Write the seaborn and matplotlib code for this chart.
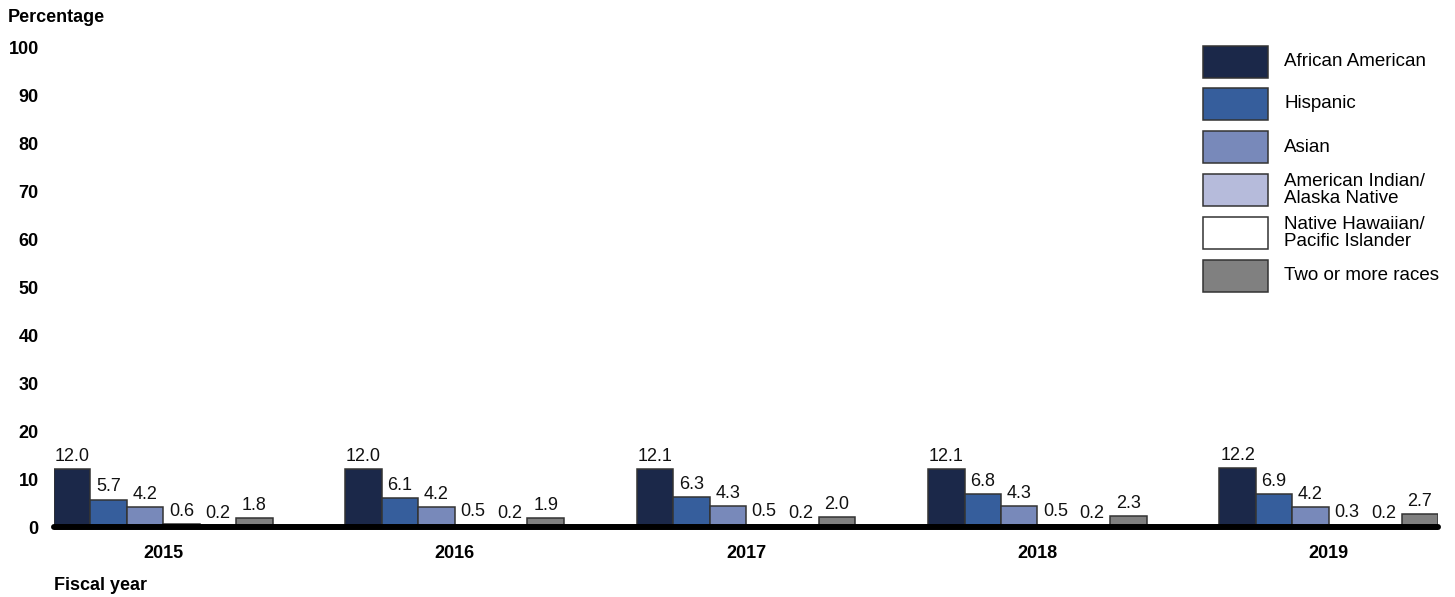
#!/usr/bin/env python3
"""Minority representation by fiscal year, grouped bars."""

import matplotlib.pyplot as plt
import pandas as pd
import seaborn as sns
from matplotlib.patches import Rectangle

years = ["2015", "2016", "2017", "2018", "2019"]
groups = [
    "African American",
    "Hispanic",
    "Asian",
    "American Indian/\nAlaska Native",
    "Native Hawaiian/\nPacific Islander",
    "Two or more races",
]
african_american = [12.0, 12.0, 12.1, 12.1, 12.2]
hispanic = [5.7, 6.1, 6.3, 6.8, 6.9]
asian = [4.2, 4.2, 4.3, 4.3, 4.2]
american_indian = [0.6, 0.5, 0.5, 0.5, 0.3]
native_hawaiian = [0.2, 0.2, 0.2, 0.2, 0.2]
two_or_more = [1.8, 1.9, 2.0, 2.3, 2.7]
colors = ["#1b2849", "#365e9c", "#7889ba", "#b6bbdb", "#ffffff", "#808080"]

series = [african_american, hispanic, asian, american_indian, native_hawaiian, two_or_more]
rows = []
for name, values in zip(groups, series):
    for year, value in zip(years, values):
        rows.append({"year": year, "group": name, "pct": value})
df = pd.DataFrame(rows)

sns.set_theme(style="white")
plt.rcParams["font.family"] = ["Liberation Sans", "DejaVu Sans"]
plt.rcParams["text.color"] = "black"

W, H = 1455, 597
fig = plt.figure(figsize=(W / 100, H / 100), dpi=100)
ax = fig.add_axes([54 / W, 1 - 527 / H, (1438 - 54) / W, (527 - 47) / H])

sns.barplot(
    data=df, x="year", y="pct", hue="group", hue_order=groups, order=years,
    palette=colors, saturation=1, width=0.75, gap=0, edgecolor="#333333",
    linewidth=1.1, legend=False, ax=ax,
)
for container in ax.containers:
    ax.bar_label(container, fmt="%.1f", padding=3, fontsize=13, color="#111111")

ax.axhline(0, color="black", linewidth=4.3, zorder=5, clip_on=False)
ax.set_xlim(-0.375, 4.375)
ax.set_ylim(0, 100)
ax.set_yticks(range(0, 101, 10))
ax.tick_params(axis="y", length=0, pad=11, labelsize=13, labelcolor="black")
ax.tick_params(axis="x", length=0, pad=13, labelsize=13, labelcolor="black")
for lab in ax.get_xticklabels() + ax.get_yticklabels():
    lab.set_fontweight("bold")
ax.set_xlabel("")
ax.set_ylabel("")
sns.despine(ax=ax, left=True, bottom=True)

# legend boxes, placed by hand so rows stay evenly spaced
legend_rows = [62, 104, 147, 190, 233, 276]
for color, label, yc in zip(colors, groups, legend_rows):
    fig.add_artist(Rectangle(
        (1203 / W, 1 - (yc + 16) / H), 65 / W, 32 / H,
        transform=fig.transFigure, facecolor=color, edgecolor="#333333", linewidth=1.1,
    ))
    fig.text(1284 / W, 1 - yc / H, label, fontsize=13.5, va="center", ha="left",
             linespacing=1.05)

fig.text(8 / W, 1 - 17 / H, "Percentage", fontsize=13, fontweight="bold", va="center", ha="left")
fig.text(54 / W, 1 - 586 / H, "Fiscal year", fontsize=13, fontweight="bold", va="center", ha="left")

fig.savefig("out.png", dpi=100)
